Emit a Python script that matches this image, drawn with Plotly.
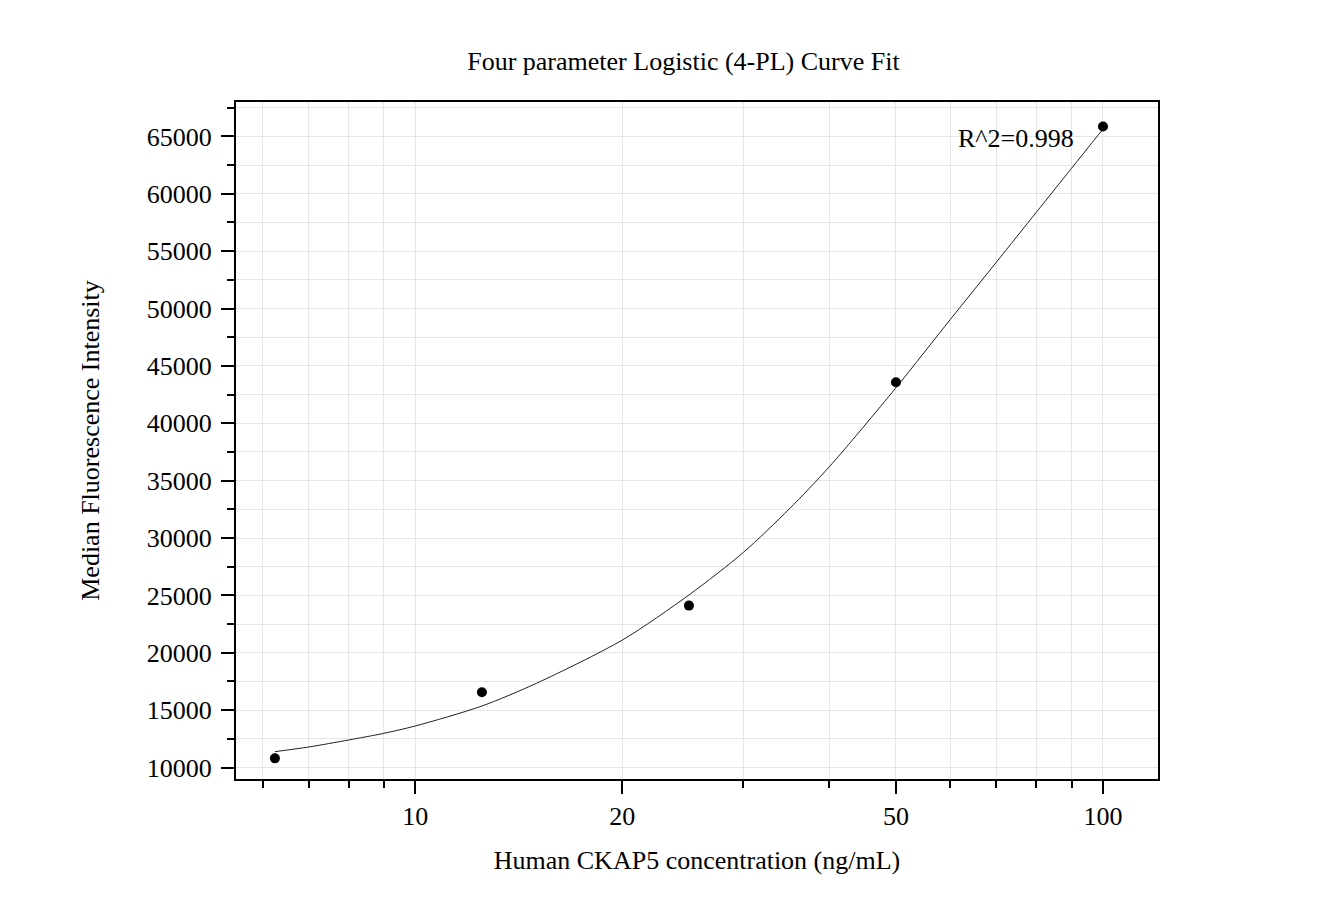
import plotly.graph_objects as go

# Measured standards
conc = [6.25, 12.5, 25, 50, 100]
mfi = [10800, 16560, 24110, 43580, 65870]

# Fitted 4-PL curve
curve_x = [6.25, 7, 8, 9, 10, 12.5, 15, 20, 25, 30, 35, 40, 50, 60, 70, 80, 90, 100]
curve_y = [11380, 11790, 12400, 12980, 13620, 15360, 17340, 21110, 25040,
           28750, 32550, 36210, 43100, 49060, 54050, 58390, 62220, 65640]

x_major = [10, 20, 50, 100]
x_minor = [6, 7, 8, 9, 30, 40, 60, 70, 80, 90]

FONT = "Liberation Serif, Times New Roman, serif"

fig = go.Figure()
fig.add_trace(go.Scatter(x=curve_x, y=curve_y, mode="lines",
                         line=dict(color="#222222", width=1, shape="spline", smoothing=0.8),
                         hoverinfo="skip", showlegend=False))
fig.add_trace(go.Scatter(x=conc, y=mfi, mode="markers", marker=dict(color="black", size=10),
                         showlegend=False))

fig.update_layout(
    width=1331, height=923,
    margin=dict(l=228, r=181, t=94, b=152),
    paper_bgcolor="white", plot_bgcolor="white",
    font=dict(family=FONT, size=26, color="black"),
    title=dict(text="Four parameter Logistic (4-PL) Curve Fit", x=0.5075, xanchor="center",
               y=1 - 53 / 923, yanchor="middle", font=dict(family=FONT, size=26, color="black")),
    xaxis=dict(
        type="log", range=[0.7393, 2.080],
        tickmode="array", tickvals=x_major, ticktext=[str(v) for v in x_major],
        ticks="outside", ticklen=13, tickwidth=2, tickcolor="black",
        showline=True, linecolor="black", linewidth=2, mirror=True,
        showgrid=True, gridcolor="#e6e6e6", gridwidth=1,
        minor=dict(tickmode="array", tickvals=x_minor, ticks="outside", ticklen=7, tickwidth=2,
                   tickcolor="black", showgrid=True, gridcolor="#e6e6e6", gridwidth=1),
        tickfont=dict(family=FONT, size=26),
        title=dict(text="Human CKAP5 concentration (ng/mL)", font=dict(family=FONT, size=26), standoff=21),
        zeroline=False,
    ),
    yaxis=dict(
        range=[9000, 68000],
        tick0=0, dtick=5000,
        ticks="outside", ticklen=13, tickwidth=2, tickcolor="black",
        showline=True, linecolor="black", linewidth=2, mirror=True,
        showgrid=True, gridcolor="#e6e6e6", gridwidth=1,
        minor=dict(dtick=2500, tick0=0, ticks="outside", ticklen=7, tickwidth=2, tickcolor="black",
                   showgrid=True, gridcolor="#e6e6e6", gridwidth=1),
        tickfont=dict(family=FONT, size=26),
        ticklabelstandoff=4,
        tickformat="d",
        title=dict(text="Median Fluorescence Intensity", font=dict(family=FONT, size=26), standoff=40),
        zeroline=False,
    ),
    annotations=[dict(text="R^2=0.998", xref="paper", yref="paper", x=0.911, y=0.946,
                      xanchor="right", yanchor="middle", showarrow=False,
                      font=dict(family=FONT, size=26, color="black"))],
)

fig.write_html("out.html")
